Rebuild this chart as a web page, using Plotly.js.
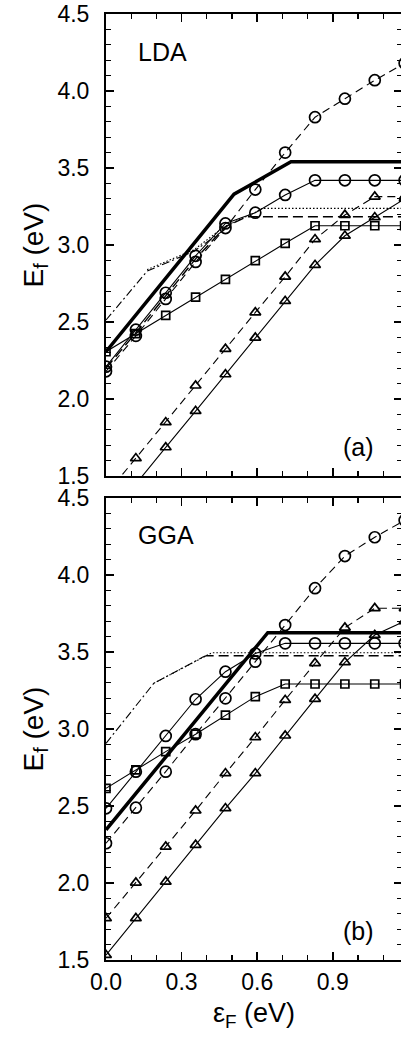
<!DOCTYPE html>
<html>
<head>
<meta charset="utf-8">
<script src="https://cdn.plot.ly/plotly-3.0.1.min.js"></script>
<style>
  html, body { margin: 0; padding: 0; overflow: hidden; background: #fff; }
  #chart { width: 402px; height: 1038px; }
</style>
</head>
<body>
<div id="chart"></div>
<script>
// Fermi-level grid (eV) shared by all marker series
const xs = [0, 0.1185, 0.237, 0.3555, 0.474, 0.5925, 0.711, 0.8295, 0.948, 1.0665, 1.185];

// ---- Panel (a): LDA ----
const ldaCircDash  = [2.18, 2.41, 2.65, 2.89, 3.11, 3.36, 3.60, 3.83, 3.95, 4.07, 4.18];
const ldaCircSolid = [2.21, 2.45, 2.69, 2.93, 3.14, 3.21, 3.325, 3.42, 3.42, 3.42, 3.42];
const ldaSquare    = [2.307, 2.425, 2.543, 2.662, 2.777, 2.898, 3.011, 3.125, 3.125, 3.125, 3.125];
const ldaTriDash   = [1.38, 1.615, 1.849, 2.087, 2.325, 2.562, 2.794, 3.037, 3.195, 3.314, 3.314];
const ldaTriSolid  = [1.21, 1.45, 1.686, 1.922, 2.16, 2.398, 2.636, 2.87, 3.06, 3.18, 3.30];
const ldaThickX = [0, 0.508, 0.734, 1.185];
const ldaThickY = [2.307, 3.33, 3.541, 3.541];
const ldaDashDotX = [0, 0.163, 0.35, 0.47];
const ldaDashDotY = [2.513, 2.83, 2.96, 3.10];
const ldaDottedX = [0.163, 0.35, 0.47, 0.59, 0.62, 1.185];
const ldaDottedY = [2.84, 2.97, 3.12, 3.21, 3.238, 3.238];
const ldaLongDashX = [0, 0.1185, 0.237, 0.3555, 0.474, 0.56, 1.185];
const ldaLongDashY = [2.20, 2.43, 2.67, 2.91, 3.12, 3.184, 3.184];

// ---- Panel (b): GGA ----
const ggaCircDash  = [2.258, 2.489, 2.723, 2.966, 3.199, 3.437, 3.675, 3.914, 4.123, 4.245, 4.355];
const ggaCircSolid = [2.485, 2.723, 2.955, 3.193, 3.372, 3.49, 3.556, 3.556, 3.556, 3.556, 3.556];
const ggaSquare    = [2.615, 2.734, 2.853, 2.966, 3.09, 3.21, 3.292, 3.292, 3.292, 3.292, 3.292];
const ggaTriDash   = [1.771, 2.002, 2.236, 2.47, 2.712, 2.946, 3.188, 3.427, 3.658, 3.784, 3.784];
const ggaTriSolid  = [1.532, 1.771, 2.008, 2.247, 2.485, 2.712, 2.957, 3.195, 3.433, 3.61, 3.70];
const ggaThickX = [0, 0.642, 1.185];
const ggaThickY = [2.345, 3.625, 3.625];
const ggaDashDotX = [0, 0.19, 0.388];
const ggaDashDotY = [2.907, 3.297, 3.47];
const ggaDottedX = [0.19, 0.388, 0.42, 1.185];
const ggaDottedY = [3.297, 3.47, 3.495, 3.495];
const ggaLongDashX = [0.388, 0.40, 1.185];
const ggaLongDashY = [3.47, 3.476, 3.476];

const xTickVals = [0.0, 0.3, 0.6, 0.9];
const yTickVals = [1.5, 2.0, 2.5, 3.0, 3.5, 4.0, 4.5];

const FONT = 'Liberation Sans, Arial, Helvetica, sans-serif';
const DASH = '8px,5px';

function markerTrace(y, symbol, dash, xa, ya) {
  const size = symbol.startsWith('circle') ? 11 : (symbol.startsWith('square') ? 8 : 9.5);
  return {
    x: xs, y: y, xaxis: xa, yaxis: ya, mode: 'lines+markers', showlegend: false,
    line: { color: '#000', width: 1.1, dash: dash },
    marker: { symbol: symbol, size: size, color: '#000', line: { color: '#000', width: 1.7 } },
    hoverinfo: 'skip'
  };
}
function lineTrace(x, y, dash, width, xa, ya) {
  return {
    x: x, y: y, xaxis: xa, yaxis: ya, mode: 'lines', showlegend: false,
    line: { color: '#000', width: width, dash: dash }, hoverinfo: 'skip'
  };
}

const traces = [];
function panel(xa, ya, d) {
  traces.push(lineTrace(d.thickX, d.thickY, 'solid', 3.5, xa, ya));
  traces.push(lineTrace(d.ddX, d.ddY, '8px,3px,2px,3px', 1.1, xa, ya));
  traces.push(lineTrace(d.dotX, d.dotY, '1.5px,2px', 1.1, xa, ya));
  traces.push(lineTrace(d.ldX, d.ldY, '10px,5px', 1.4, xa, ya));
  traces.push(markerTrace(d.cd, 'circle-open', DASH, xa, ya));
  traces.push(markerTrace(d.cs, 'circle-open', 'solid', xa, ya));
  traces.push(markerTrace(d.sq, 'square-open', 'solid', xa, ya));
  traces.push(markerTrace(d.td, 'triangle-up-open', DASH, xa, ya));
  traces.push(markerTrace(d.ts, 'triangle-up-open', 'solid', xa, ya));
}
panel('x2', 'y2', {
  thickX: ldaThickX, thickY: ldaThickY, ddX: ldaDashDotX, ddY: ldaDashDotY,
  dotX: ldaDottedX, dotY: ldaDottedY, ldX: ldaLongDashX, ldY: ldaLongDashY,
  cd: ldaCircDash, cs: ldaCircSolid, sq: ldaSquare, td: ldaTriDash, ts: ldaTriSolid
});
panel('x', 'y', {
  thickX: ggaThickX, thickY: ggaThickY, ddX: ggaDashDotX, ddY: ggaDashDotY,
  dotX: ggaDottedX, dotY: ggaDottedY, ldX: ggaLongDashX, ldY: ggaLongDashY,
  cd: ggaCircDash, cs: ggaCircSolid, sq: ggaSquare, td: ggaTriDash, ts: ggaTriSolid
});

const xRange = [0, 296 / 252];
function xAxis(extra) {
  return Object.assign({
    range: xRange, showgrid: false, zeroline: false,
    showline: true, linecolor: '#000', linewidth: 2, mirror: 'allticks',
    ticks: 'inside', ticklen: 8, tickwidth: 1.5, tickcolor: '#000',
    tickvals: xTickVals, ticktext: xTickVals.map(v => v.toFixed(1)),
    minor: { ticks: 'inside', ticklen: 5, tickwidth: 1.2, dtick: 0.1, tick0: 0, tickcolor: '#000', showgrid: false },
    tickfont: { family: FONT, size: 23, color: '#000' }
  }, extra);
}
function yAxis(extra) {
  return Object.assign({
    range: [1.5, 4.5], showgrid: false, zeroline: false,
    showline: true, linecolor: '#000', linewidth: 2, mirror: 'allticks',
    ticks: 'inside', ticklen: 8, tickwidth: 1.5, tickcolor: '#000',
    tickvals: yTickVals, ticktext: yTickVals.map(v => v.toFixed(1)),
    minor: { ticks: 'inside', ticklen: 5, tickwidth: 1.2, dtick: 0.1, tick0: 1.5, tickcolor: '#000', showgrid: false },
    tickfont: { family: FONT, size: 23, color: '#000' },
    ticklabelstandoff: 10,
    title: { text: 'E<sub>f</sub> (eV)', font: { family: FONT, size: 28, color: '#000' }, standoff: 6 }
  }, extra);
}

const layout = {
  width: 402, height: 1038,
  margin: { l: 106, r: 0, t: 14, b: 78 },
  paper_bgcolor: '#fff', plot_bgcolor: '#fff',
  font: { family: FONT, color: '#000' },
  showlegend: false,
  xaxis: xAxis({ anchor: 'y', domain: [0, 1],
    title: { text: '\u03b5<sub>F</sub> (eV)', font: { family: FONT, size: 27, color: '#000' }, standoff: 10 } }),
  yaxis: yAxis({ anchor: 'x', domain: [0, 0.4884] }),
  xaxis2: xAxis({ anchor: 'y2', domain: [0, 1], showticklabels: false, matches: 'x' }),
  yaxis2: yAxis({ anchor: 'x2', domain: [0.5116, 1] }),
  annotations: [
    { text: 'LDA', xref: 'x2 domain', yref: 'y2 domain', x: 0.1, y: 0.918, xanchor: 'left', yanchor: 'middle', showarrow: false, font: { family: FONT, size: 25, color: '#000' } },
    { text: '(a)', xref: 'x2 domain', yref: 'y2 domain', x: 0.912, y: 0.063, xanchor: 'right', yanchor: 'middle', showarrow: false, font: { family: FONT, size: 25, color: '#000' } },
    { text: 'GGA', xref: 'x domain', yref: 'y domain', x: 0.1, y: 0.92, xanchor: 'left', yanchor: 'middle', showarrow: false, font: { family: FONT, size: 25, color: '#000' } },
    { text: '(b)', xref: 'x domain', yref: 'y domain', x: 0.912, y: 0.063, xanchor: 'right', yanchor: 'middle', showarrow: false, font: { family: FONT, size: 25, color: '#000' } }
  ]
};

Plotly.newPlot('chart', traces, layout, { staticPlot: true, displayModeBar: false });
</script>
</body>
</html>
